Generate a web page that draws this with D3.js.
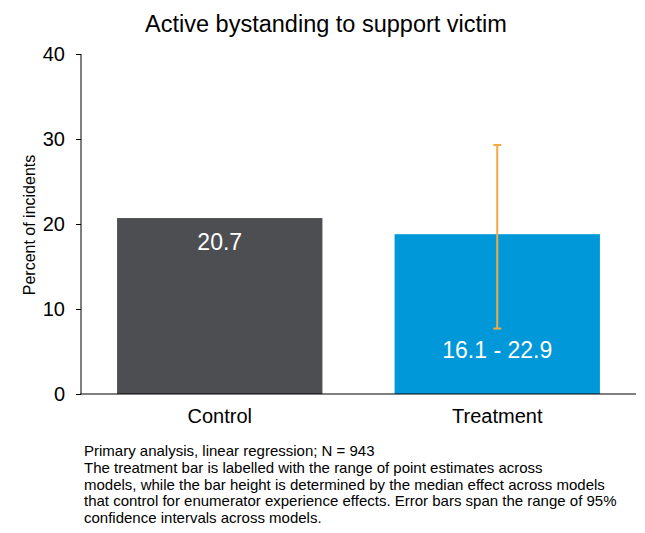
<!DOCTYPE html>
<html>
<head>
<meta charset="utf-8">
<script src="https://cdn.jsdelivr.net/npm/d3@7"></script>
<style>
  body { margin: 0; background: #fff; }
  svg text { font-family: "Liberation Sans", Arial, sans-serif; }
</style>
</head>
<body>
<svg id="chart" width="645" height="533"></svg>
<script>
var categories = ['Control', 'Treatment'];
var values = [20.7, 18.8];
var barLabels = ['20.7', '16.1 - 22.9'];
var errLow = [null, 7.7];
var errHigh = [null, 29.3];
var yTicks = [0, 10, 20, 30, 40];
var colors = ['#4d4e52', '#0098d8'];
var notes = [
  'Primary analysis, linear regression; N = 943',
  'The treatment bar is labelled with the range of point estimates across',
  'models, while the bar height is determined by the median effect across models',
  'that control for enumerator experience effects. Error bars span the range of 95%',
  'confidence intervals across models.'
];

var svg = d3.select('#chart');
// plot area edges (note: "top" is reserved on window, so use plot* names)
var plotLeft = 81, plotRight = 636, plotTop = 54, plotBottom = 394;

var x = d3.scaleBand().domain(categories).range([plotLeft, plotRight])
  .paddingInner(0.26).paddingOuter(0.13);
var y = d3.scaleLinear().domain([0, 40]).range([plotBottom, plotTop]);

// title
svg.append('text')
  .attr('x', 326).attr('y', 32)
  .attr('text-anchor', 'middle')
  .style('font-size', '23.5px')
  .text('Active bystanding to support victim');

// bars
svg.selectAll('rect.bar').data(values).enter().append('rect')
  .attr('class', 'bar')
  .attr('x', function (d, i) { return x(categories[i]); })
  .attr('width', x.bandwidth())
  .attr('y', function (d) { return y(d); })
  .attr('height', function (d) { return y(0) - y(d); })
  .attr('fill', function (d, i) { return colors[i]; });

// error bars
var errData = categories.map(function (c, i) {
  return { cat: c, lo: errLow[i], hi: errHigh[i] };
}).filter(function (d) { return d.lo !== null; });

var err = svg.selectAll('g.err').data(errData).enter().append('g')
  .attr('class', 'err')
  .attr('stroke', '#f5a940')
  .attr('stroke-width', 2);
err.append('line')
  .attr('x1', function (d) { return x(d.cat) + x.bandwidth() / 2; })
  .attr('x2', function (d) { return x(d.cat) + x.bandwidth() / 2; })
  .attr('y1', function (d) { return y(d.lo); })
  .attr('y2', function (d) { return y(d.hi); });
['lo', 'hi'].forEach(function (k) {
  err.append('line')
    .attr('x1', function (d) { return x(d.cat) + x.bandwidth() / 2 - 4; })
    .attr('x2', function (d) { return x(d.cat) + x.bandwidth() / 2 + 4; })
    .attr('y1', function (d) { return y(d[k]); })
    .attr('y2', function (d) { return y(d[k]); });
});

// bar labels
svg.selectAll('text.barlabel').data(values).enter().append('text')
  .attr('class', 'barlabel')
  .attr('x', function (d, i) { return x(categories[i]) + x.bandwidth() / 2; })
  .attr('y', function (d, i) { return i === 0 ? y(d) + 32 : y(d) + 123.5; })
  .attr('text-anchor', 'middle')
  .attr('fill', '#fff')
  .style('font-size', '23px')
  .text(function (d, i) { return barLabels[i]; });

// y axis
var yAxis = svg.append('g')
  .attr('transform', 'translate(' + plotLeft + ',0)')
  .call(d3.axisLeft(y).tickValues(yTicks).tickSize(5).tickPadding(11));
yAxis.selectAll('text').style('font-size', '20px').attr('fill', '#000');
yAxis.selectAll('line, path').attr('stroke', '#000');
yAxis.select('.domain').attr('d', 'M0,' + plotTop + 'V' + plotBottom);

// x axis
var xAxis = svg.append('g')
  .attr('transform', 'translate(0,' + plotBottom + ')')
  .call(d3.axisBottom(x).tickSize(0).tickPadding(15));
xAxis.selectAll('text').style('font-size', '20px').attr('fill', '#000');
xAxis.select('.domain').attr('stroke', '#000').attr('d', 'M' + (plotLeft - 1) + ',0H' + plotRight);

// y label
svg.append('text')
  .attr('transform', 'translate(35,225) rotate(-90)')
  .attr('text-anchor', 'middle')
  .style('font-size', '16px')
  .text('Percent of incidents');

// notes
svg.selectAll('text.note').data(notes).enter().append('text')
  .attr('class', 'note')
  .attr('x', 84)
  .attr('y', function (d, i) { return 456 + i * 16.8; })
  .style('font-size', '15px')
  .text(function (d) { return d; });
</script>
</body>
</html>
